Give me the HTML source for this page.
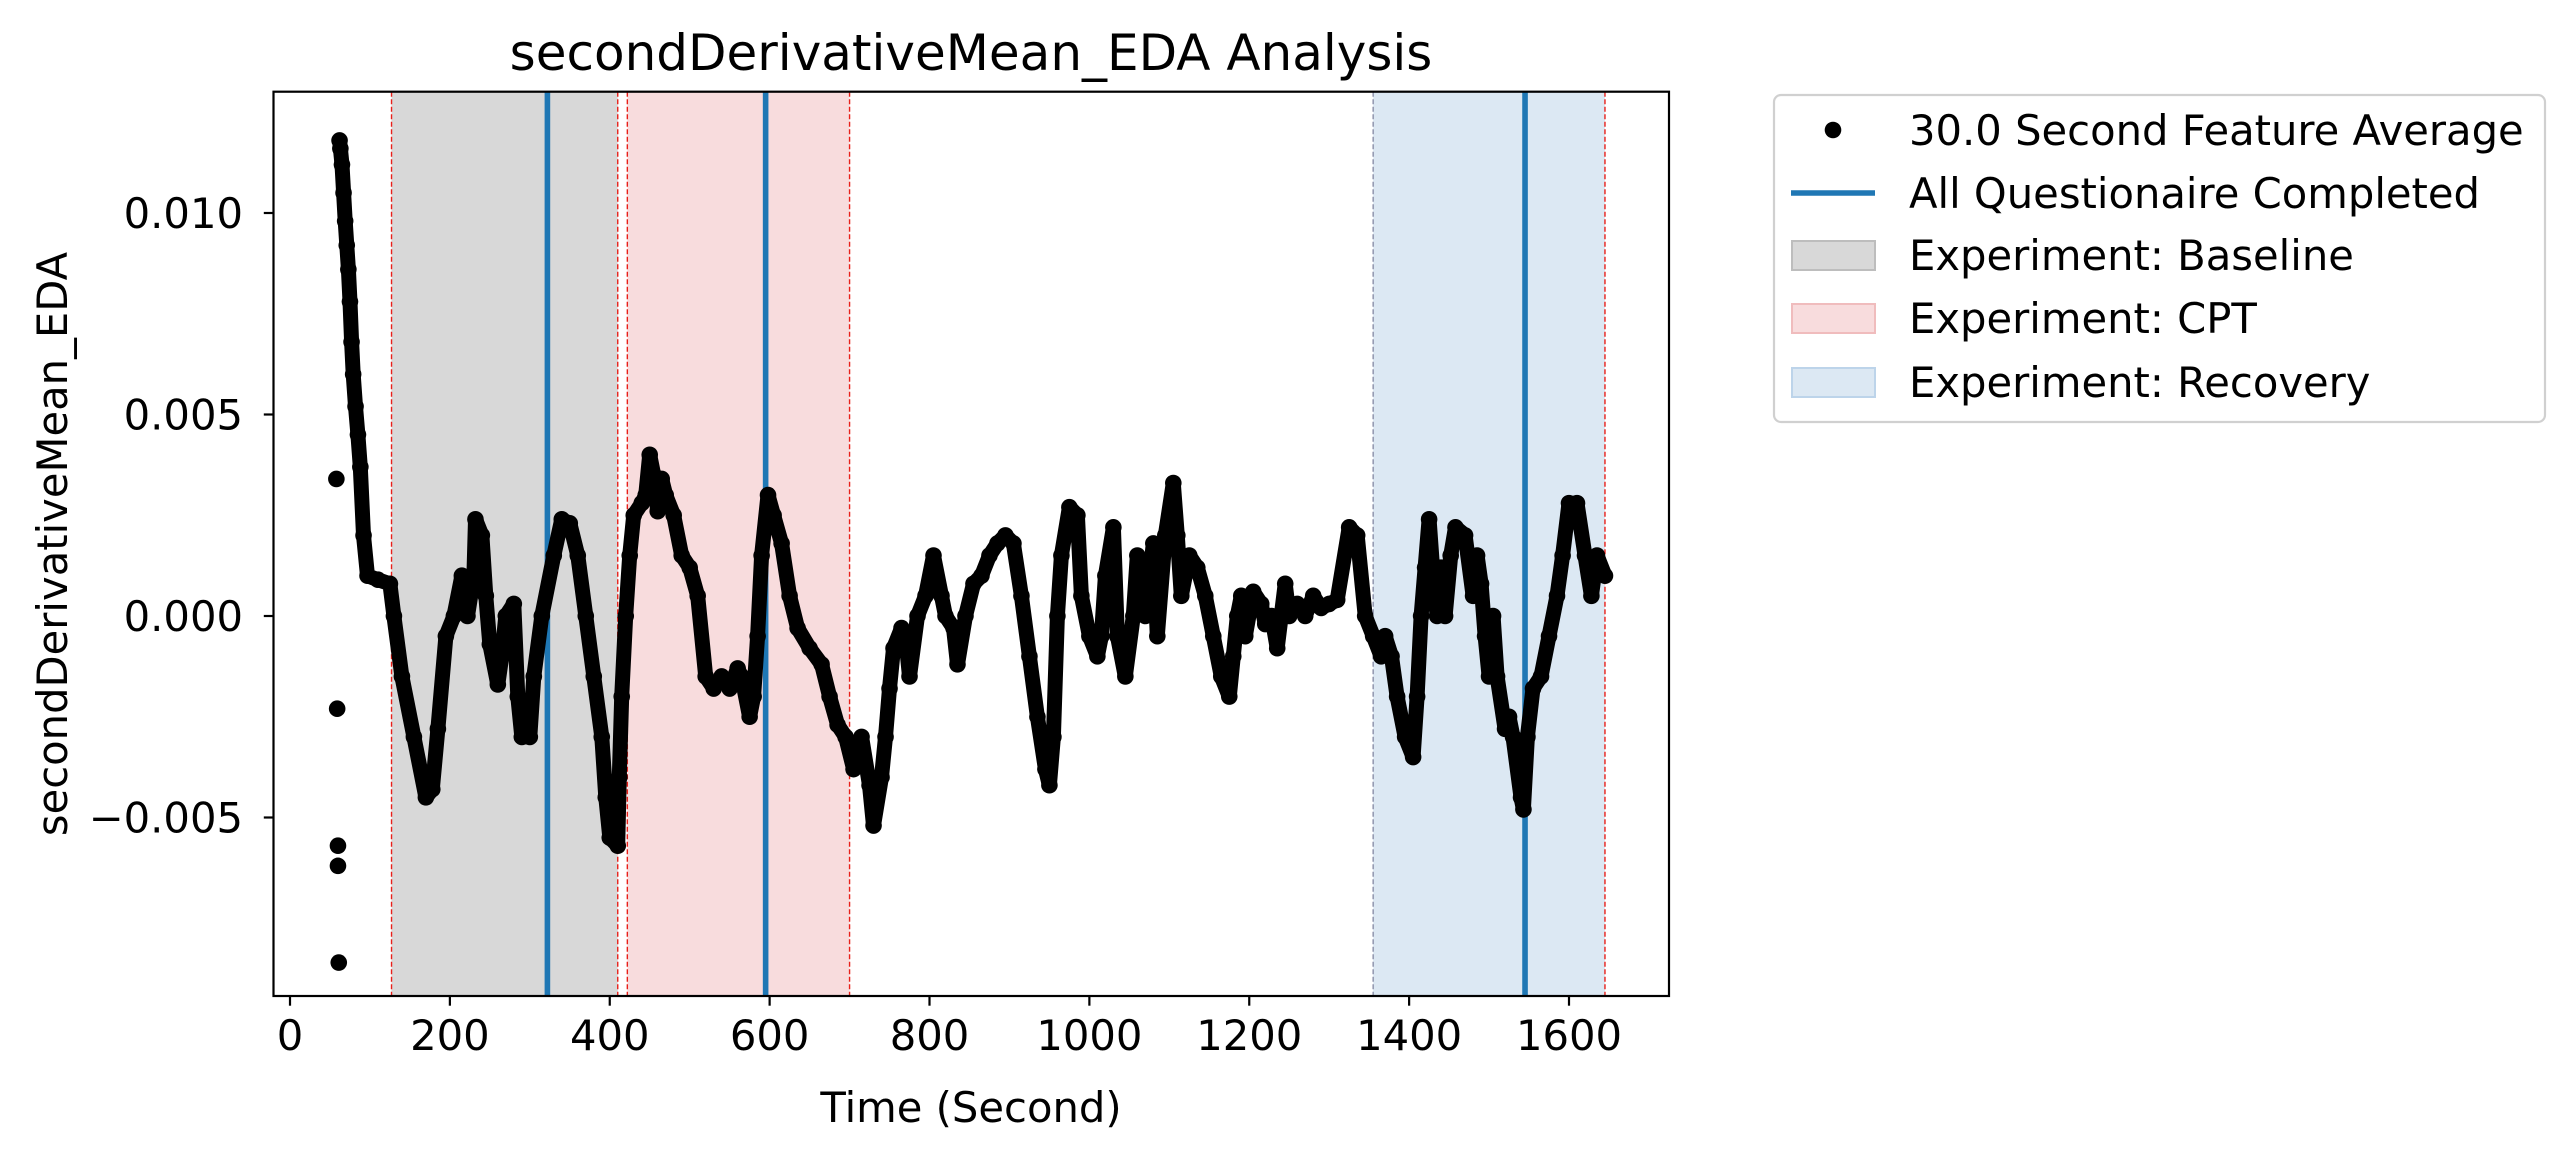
<!DOCTYPE html>
<html><head><meta charset="utf-8"><style>
html,body{margin:0;padding:0;background:#fff;}
svg{display:block;font-family:"DejaVu Sans","Liberation Sans",sans-serif;}
</style></head><body>
<svg id="chart" width="2568" height="1158" viewBox="0 0 2568 1158">
<g id="spans"></g><g id="vlines"></g><g id="series"></g><g id="axes"></g><g id="legend"></g>
</svg>
<script>
const xTicks=[0,200,400,600,800,1000,1200,1400,1600];
const yTicks=[-0.005,0.000,0.005,0.010];
const yTickLabels=["\u22120.005","0.000","0.005","0.010"];
const spanNames=["baseline","cpt","recovery"];
const spanStarts=[127,422,1355];
const spanEnds=[410,700,1645];
const questionTimes=[322,595,1545];
const isoT=[58,59,60,60,61];
const isoV=[0.0034,-0.0023,-0.0057,-0.0062,-0.0086];
const times=[62,63,65,67,69,71,73,75,77,79,82,85,88,92,97,110,125,130,140,155,170,178,185,195,205,215,222,230,232,240,245,250,260,265,270,280,285,290,300,305,315,330,340,350,360,370,380,390,395,400,410,412,415,420,425,430,440,445,450,455,460,465,470,480,490,500,510,520,530,540,550,560,565,575,580,585,590,598,605,615,625,635,650,665,675,685,695,705,715,725,730,740,745,750,755,765,770,775,785,795,805,815,820,830,835,845,855,865,875,885,895,905,915,925,935,945,950,955,960,965,975,985,990,1000,1010,1015,1020,1030,1035,1045,1055,1060,1065,1070,1080,1085,1095,1105,1110,1115,1125,1135,1145,1155,1165,1175,1180,1185,1190,1195,1205,1215,1220,1228,1235,1245,1250,1260,1270,1280,1290,1300,1310,1325,1335,1345,1355,1365,1370,1378,1385,1395,1405,1410,1415,1420,1425,1430,1435,1440,1445,1452,1458,1470,1480,1485,1490,1495,1500,1505,1510,1520,1525,1530,1540,1543,1548,1555,1565,1575,1585,1592,1600,1610,1620,1628,1635,1645];
const values=[0.0118,0.0116,0.0112,0.0105,0.0098,0.0092,0.0086,0.0078,0.0068,0.0060,0.0052,0.0045,0.0037,0.0020,0.0010,0.0009,0.0008,0.0000,-0.0015,-0.0030,-0.0045,-0.0043,-0.0028,-0.0005,0.0000,0.0010,0.0000,0.0010,0.0024,0.0020,0.0005,-0.0007,-0.0017,-0.0010,0.0000,0.0003,-0.0020,-0.0030,-0.0030,-0.0015,0.0000,0.0015,0.0024,0.0023,0.0015,0.0000,-0.0015,-0.0030,-0.0045,-0.0055,-0.0057,-0.0040,-0.0020,0.0000,0.0015,0.0025,0.0028,0.0030,0.0040,0.0035,0.0026,0.0034,0.0030,0.0025,0.0015,0.0012,0.0005,-0.0015,-0.0018,-0.0015,-0.0018,-0.0013,-0.0015,-0.0025,-0.0020,-0.0005,0.0015,0.0030,0.0025,0.0018,0.0005,-0.0003,-0.0008,-0.0012,-0.0020,-0.0027,-0.0030,-0.0038,-0.0030,-0.0042,-0.0052,-0.0040,-0.0030,-0.0018,-0.0008,-0.0003,-0.0005,-0.0015,0.0000,0.0005,0.0015,0.0005,0.0000,-0.0003,-0.0012,0.0000,0.0008,0.0010,0.0015,0.0018,0.0020,0.0018,0.0005,-0.0010,-0.0025,-0.0038,-0.0042,-0.0030,0.0000,0.0015,0.0027,0.0025,0.0005,-0.0005,-0.0010,-0.0005,0.0010,0.0022,-0.0005,-0.0015,0.0000,0.0015,0.0005,0.0000,0.0018,-0.0005,0.0020,0.0033,0.0020,0.0005,0.0015,0.0012,0.0005,-0.0005,-0.0015,-0.0020,-0.0010,0.0000,0.0005,-0.0005,0.0006,0.0003,-0.0002,0.0000,-0.0008,0.0008,0.0000,0.0003,0.0000,0.0005,0.0002,0.0003,0.0004,0.0022,0.0020,0.0000,-0.0005,-0.0010,-0.0005,-0.0010,-0.0020,-0.0030,-0.0035,-0.0020,0.0000,0.0012,0.0024,0.0010,0.0000,0.0012,0.0000,0.0015,0.0022,0.0020,0.0005,0.0015,0.0008,-0.0005,-0.0015,0.0000,-0.0015,-0.0028,-0.0025,-0.0030,-0.0045,-0.0048,-0.0030,-0.0018,-0.0015,-0.0005,0.0005,0.0015,0.0028,0.0028,0.0015,0.0005,0.0015,0.0010];

const NS="http://www.w3.org/2000/svg";
const L=273.5,R=1669,T=91.7,B=996;
function xs(t){return 290+t*(1569-290)/1600;}
function ys(v){return 616-v*(201.5/0.005);}
function mk(tag,attrs,parent){const e=document.createElementNS(NS,tag);for(const k in attrs)e.setAttribute(k,attrs[k]);parent.appendChild(e);return e;}
const spanFill=["#d8d8d8","#f8dcdd","#dce8f3"];
const gS=document.getElementById('spans');
spanNames.forEach((n,i)=>{
  const r=mk('rect',{x:xs(spanStarts[i]),y:T,width:xs(spanEnds[i])-xs(spanStarts[i]),height:B-T,fill:spanFill[i]},gS);
  
  
});
const gV=document.getElementById('vlines');
spanNames.forEach((n,i)=>{
  [spanStarts[i],spanEnds[i]].forEach((t,j)=>{
    const l=mk('line',{x1:xs(t),x2:xs(t),y1:T,y2:B,stroke:(i==2&&j==0)?'#8a8fa8':'#e8201a','stroke-width':1.4,'stroke-dasharray':'5,2.5'},gV);
    
    
  });
});
const gP=document.getElementById('series');
let d='';times.forEach((t,i)=>{d+=(i?'L':'M')+xs(t).toFixed(1)+' '+ys(values[i]).toFixed(1);});
const path=mk('path',{d:d,fill:'none',stroke:'#000','stroke-width':15,'stroke-linejoin':'round','stroke-linecap':'round'},gP);


times.forEach((t,i)=>{
  const c=mk('circle',{cx:xs(t),cy:ys(values[i]),r:8.3,fill:'#000'},gP);
  
  
});
isoT.forEach((t,i)=>{
  const c=mk('circle',{cx:xs(t),cy:ys(isoV[i]),r:8.3,fill:'#000'},gP);
  
  
});
questionTimes.forEach((t,i)=>{
  const l=mk('line',{x1:xs(t),x2:xs(t),y1:T,y2:B,stroke:'#1f77b4','stroke-width':5.6},gV);
  
  
});
const gA=document.getElementById('axes');
const frame=mk('rect',{x:L,y:T,width:R-L,height:B-T,fill:'none',stroke:'#000','stroke-width':2.2},gA);


xTicks.forEach(t=>{
  mk('line',{x1:xs(t),x2:xs(t),y1:B,y2:B+9.7,stroke:'#000','stroke-width':2.2},gA);
  const tx=mk('text',{x:xs(t),y:1050,'font-size':41.7,'text-anchor':'middle',fill:'#000'},gA);
  tx.textContent=t;
  
  
});
yTicks.forEach((v,i)=>{
  mk('line',{x1:L-9.7,x2:L,y1:ys(v),y2:ys(v),stroke:'#000','stroke-width':2.2},gA);
  const tx=mk('text',{x:243,y:ys(v)+15,'font-size':41.7,'text-anchor':'end',fill:'#000'},gA);
  tx.textContent=yTickLabels[i];
  
  
});
</script>
<script>
(function(){
const svg=document.getElementById('chart');
svg.insertAdjacentHTML('beforeend',
 '<text x="971" y="70" font-size="50" text-anchor="middle">secondDerivativeMean_EDA Analysis</text>'+
 '<text x="971" y="1122" font-size="41.7" text-anchor="middle">Time (Second)</text>'+
 '<text transform="translate(67,544) rotate(-90)" font-size="41.7" text-anchor="middle">secondDerivativeMean_EDA</text>'+
 '<g>'+
 '<rect x="1774" y="95" width="771" height="327" rx="7" fill="#fff" stroke="#d0d0d0" stroke-width="2.2"/>'+
 '<circle cx="1833" cy="130" r="8.3" fill="#000"/>'+
 '<line x1="1791" x2="1875" y1="193" y2="193" stroke="#1f77b4" stroke-width="5.6"/>'+
 '<rect x="1792" y="241" width="83" height="29" fill="#d8d8d8" stroke="#bdbdbd" stroke-width="2"/>'+
 '<rect x="1792" y="304" width="83" height="29" fill="#f8dcdd" stroke="#f0bcbd" stroke-width="2"/>'+
 '<rect x="1792" y="368" width="83" height="29" fill="#dce8f3" stroke="#bdd4ea" stroke-width="2"/>'+
 '<text x="1909" y="145" font-size="41.7">30.0 Second Feature Average</text>'+
 '<text x="1909" y="208" font-size="41.7">All Questionaire Completed</text>'+
 '<text x="1909" y="270" font-size="41.7">Experiment: Baseline</text>'+
 '<text x="1909" y="333" font-size="41.7">Experiment: CPT</text>'+
 '<text x="1909" y="397" font-size="41.7">Experiment: Recovery</text>'+
 '</g>');
})();
</script>
</body></html>
